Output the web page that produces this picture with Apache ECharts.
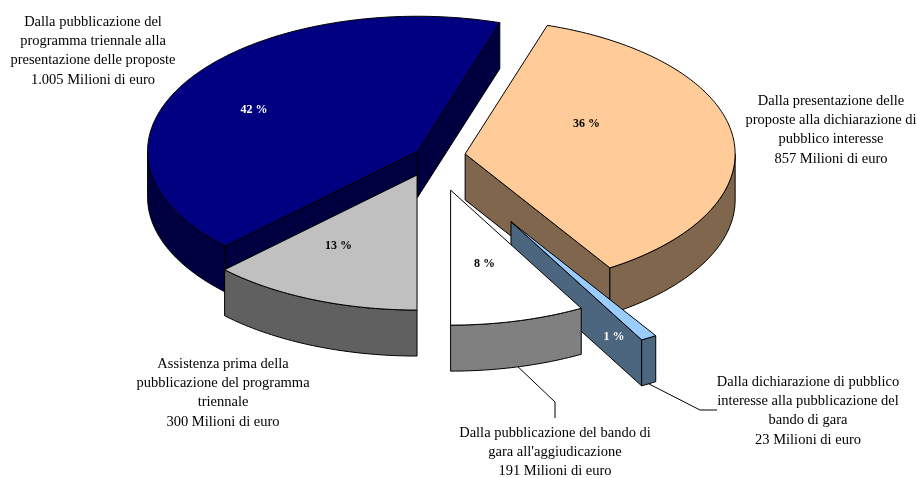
<!DOCTYPE html>
<html><head><meta charset="utf-8">
<script src="https://cdn.jsdelivr.net/npm/echarts@6/dist/echarts.min.js"></script>
<style>html,body{margin:0;padding:0;background:#fff}#c{width:917px;height:478px}</style>
</head><body><div id="c"></div>
<script>
// ---- data ----
const categories = [
  "Assistenza prima della pubblicazione del programma triennale",
  "Dalla pubblicazione del programma triennale alla presentazione delle proposte",
  "Dalla presentazione delle proposte alla dichiarazione di pubblico interesse",
  "Dalla dichiarazione di pubblico interesse alla pubblicazione del bando di gara",
  "Dalla pubblicazione del bando di gara all'aggiudicazione"
];
const categoryLines = [
  ["Assistenza prima della", "pubblicazione del programma", "triennale"],
  ["Dalla pubblicazione del", "programma triennale alla", "presentazione delle proposte"],
  ["Dalla presentazione delle", "proposte alla dichiarazione di", "pubblico interesse"],
  ["Dalla dichiarazione di pubblico", "interesse alla pubblicazione del", "bando di gara"],
  ["Dalla pubblicazione del bando di", "gara all'aggiudicazione"]
];
const values = [300, 1005, 857, 23, 191];
const unit = "Milioni di euro";

// ---- style / layout ----
const topColors  = ['#C0C0C0', '#000080', '#FFCC99', '#99CCFF', '#FFFFFF'];
const sideColors = ['#606060', '#000040', '#80664D', '#4D6680', '#808080'];
const pctColors  = ['#000000', '#FFFFFF', '#000000', '#FFFFFF', '#000000'];
const explodeFrac = [0.153, 0.067, 0.12, 0.566, 0.261];
const zRank = [3, 0, 1, 2, 4];
const pctPolar = [[209, 0.60, 0], [297, 0.68, 0], [64, 0.50, 0], [150.7, 0.78, 23], [167, 0.56, 0]];
const outLabelCenter = [[223, 393], [93, 51], [831, 130], [808, 411], [555, 452]];
const leaderTail = [null, null, null, [[700, 410], [717, 410]], [[555, 402], [555, 418]]];
const geo = { cx: 433, cy: 156, rx: 270, ry: 135, depth: 46, startAngle: 180 };
const FONT = '"Liberation Serif", "Times New Roman", serif';

const total = values.reduce((s, v) => s + v, 0);
function fmt(n) { return String(n).replace(/\B(?=(\d{3})+(?!\d))/g, '.'); }
function pt(ax, ay, a, r) {
  const t = a * Math.PI / 180;
  return [ax + r * geo.rx * Math.sin(t), ay - r * geo.ry * Math.cos(t)];
}
function arcPts(ax, ay, b0, b1, dy) {
  const pts = [];
  const n = Math.max(2, Math.ceil(Math.abs(b1 - b0)));
  for (let k = 0; k <= n; k++) {
    const p = pt(ax, ay, b0 + (b1 - b0) * k / n, 1);
    pts.push([p[0], p[1] + dy]);
  }
  return pts;
}
function mod360(a) { return ((a % 360) + 360) % 360; }

function renderItem(params, api) {
  const i = params.dataIndex;
  const v = api.value(0);
  let before = 0;
  for (let k = 0; k < i; k++) before += values[k];
  const a0 = geo.startAngle + before / total * 360;
  const a1 = a0 + v / total * 360;
  const mid = (a0 + a1) / 2;
  const off = pt(0, 0, mid, explodeFrac[i]);
  const ax = geo.cx + off[0], ay = geo.cy + off[1];
  const D = geo.depth;
  const z = zRank[i] * 10;
  const line = { stroke: '#000', lineWidth: 1, lineJoin: 'round' };
  const children = [];
  // radial faces
  const m0 = mod360(a0), m1 = mod360(a1);
  const faces = [];
  if (m0 > 180.01 && m0 < 359.99) faces.push(a0);
  if (m1 > 0.01 && m1 < 179.99) faces.push(a1);
  faces.forEach(a => {
    const r = pt(ax, ay, a, 1);
    children.push({ type: 'polygon', z2: z,
      shape: { points: [[ax, ay], r, [r[0], r[1] + D], [ax, ay + D]] },
      style: Object.assign({ fill: sideColors[i] }, line) });
  });
  // outer wall (front half only)
  [-360, 0, 360].forEach(k => {
    const b0 = Math.max(a0, 90 + k), b1 = Math.min(a1, 270 + k);
    if (b1 - b0 > 0.01) {
      const topArc = arcPts(ax, ay, b0, b1, 0);
      const botArc = arcPts(ax, ay, b0, b1, D).reverse();
      children.push({ type: 'polygon', z2: z + 1,
        shape: { points: topArc.concat(botArc) },
        style: Object.assign({ fill: sideColors[i] }, line) });
    }
  });
  // top face
  children.push({ type: 'polygon', z2: z + 2,
    shape: { points: [[ax, ay]].concat(arcPts(ax, ay, a0, a1, 0)) },
    style: Object.assign({ fill: topColors[i] }, line) });
  // percent label
  const pp = pctPolar[i];
  const lp = pt(ax, ay, pp[0], pp[1]);
  children.push({ type: 'text', z2: z + 3,
    style: { x: lp[0], y: lp[1] + pp[2], text: Math.round(v / total * 100) + ' %',
      fill: pctColors[i], font: 'bold 12px ' + FONT,
      align: 'center', verticalAlign: 'middle', textAlign: 'center', textVerticalAlign: 'middle' } });
  // outside label
  const oc = outLabelCenter[i];
  children.push({ type: 'text', z2: 200,
    style: { x: oc[0], y: oc[1], text: categoryLines[i].concat([fmt(v) + ' ' + unit]).join('\n'),
      fill: '#000', font: '14.5px ' + FONT, lineHeight: 19.3,
      align: 'center', verticalAlign: 'middle', textAlign: 'center', textVerticalAlign: 'middle' } });
  // leader line
  if (leaderTail[i]) {
    const s = pt(ax, ay, mid, 1);
    children.push({ type: 'polyline', z2: 200,
      shape: { points: [[s[0], s[1] + D]].concat(leaderTail[i]) },
      style: { stroke: '#000', lineWidth: 1, fill: null } });
  }
  return { type: 'group', children: children };
}

const chart = echarts.init(document.getElementById('c'), null, { renderer: 'canvas' });
chart.setOption({
  backgroundColor: '#fff',
  animation: false,
  series: [{
    type: 'custom',
    coordinateSystem: 'none',
    silent: true,
    renderItem: renderItem,
    data: values.map((v, k) => ({ name: categories[k], value: [v] }))
  }]
});
</script>
</body></html>
